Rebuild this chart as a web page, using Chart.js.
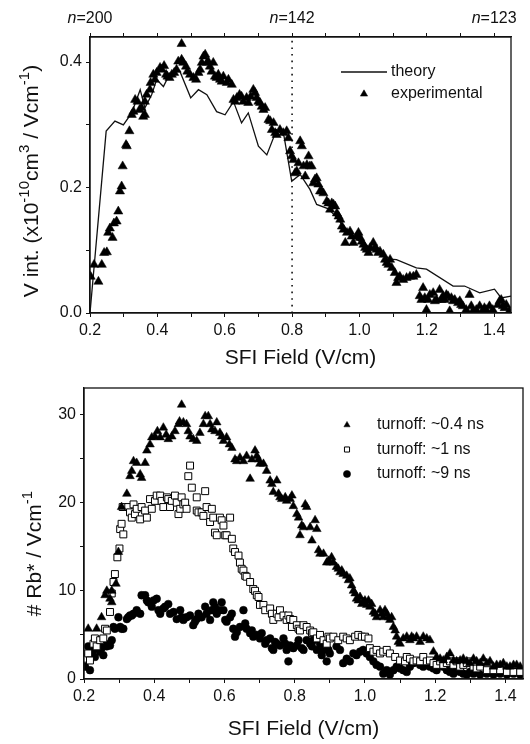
<!DOCTYPE html>
<html>
<head>
<meta charset="utf-8">
<script src="https://cdn.jsdelivr.net/npm/chart.js@4.4.1/dist/chart.umd.min.js"></script>
<style>
  html, body { margin: 0; padding: 0; background: #fff; }
  .panel { position: absolute; left: 0; width: 530px; height: 372px; }
  #topPanel { top: 0; }
  #botPanel { top: 372px; }
</style>
</head>
<body>
<div class="panel" id="topPanel"><canvas id="topChart" width="530" height="372"></canvas></div>
<div class="panel" id="botPanel"><canvas id="botChart" width="530" height="372"></canvas></div>
<script>
// ---- donnees : [champ SFI (V/cm), valeur] ----

// panneau du haut : V int. experimental (triangles)
const experimental = [
  [0.202,0.058],[0.212,0.077],[0.225,0.050],[0.235,0.077],[0.242,0.096],[0.250,0.097],[0.254,0.128],[0.259,0.135],
  [0.267,0.120],[0.271,0.143],[0.279,0.146],[0.284,0.162],[0.289,0.194],[0.294,0.202],[0.297,0.234],[0.307,0.268],
  [0.309,0.266],[0.317,0.290],[0.324,0.316],[0.329,0.321],[0.334,0.340],[0.341,0.337],[0.347,0.324],[0.353,0.327],
  [0.358,0.313],[0.363,0.316],[0.363,0.337],[0.368,0.348],[0.378,0.356],[0.380,0.367],[0.388,0.380],[0.393,0.372],
  [0.398,0.383],[0.408,0.391],[0.413,0.388],[0.420,0.394],[0.426,0.380],[0.430,0.377],[0.436,0.375],[0.443,0.380],
  [0.450,0.383],[0.457,0.388],[0.462,0.401],[0.472,0.429],[0.472,0.404],[0.477,0.399],[0.485,0.393],[0.489,0.385],
  [0.497,0.380],[0.507,0.375],[0.515,0.372],[0.522,0.383],[0.527,0.388],[0.532,0.399],[0.537,0.409],[0.542,0.412],
  [0.547,0.399],[0.551,0.401],[0.556,0.393],[0.561,0.385],[0.566,0.399],[0.571,0.377],[0.576,0.375],[0.581,0.380],
  [0.586,0.372],[0.591,0.369],[0.596,0.377],[0.606,0.367],[0.611,0.372],[0.621,0.364],[0.626,0.340],[0.631,0.337],
  [0.636,0.343],[0.644,0.348],[0.650,0.345],[0.655,0.337],[0.665,0.343],[0.670,0.335],[0.677,0.345],[0.685,0.356],
  [0.690,0.351],[0.695,0.343],[0.700,0.337],[0.705,0.335],[0.710,0.329],[0.715,0.324],[0.720,0.327],[0.730,0.308],
  [0.735,0.306],[0.740,0.292],[0.745,0.303],[0.750,0.287],[0.754,0.284],[0.764,0.292],[0.774,0.287],[0.784,0.290],
  [0.789,0.279],[0.794,0.258],[0.799,0.250],[0.804,0.244],[0.809,0.223],[0.814,0.226],[0.819,0.239],[0.824,0.274],
  [0.829,0.266],[0.834,0.234],[0.839,0.218],[0.844,0.236],[0.849,0.250],[0.853,0.234],[0.858,0.234],[0.863,0.207],
  [0.868,0.213],[0.873,0.215],[0.878,0.205],[0.883,0.194],[0.888,0.194],[0.893,0.191],[0.903,0.178],[0.908,0.175],
  [0.913,0.165],[0.918,0.175],[0.923,0.173],[0.928,0.170],[0.933,0.159],[0.938,0.154],[0.943,0.149],[0.948,0.138],
  [0.953,0.133],[0.958,0.112],[0.963,0.128],[0.972,0.130],[0.977,0.122],[0.982,0.112],[0.992,0.122],[0.997,0.128],
  [1.002,0.120],[1.007,0.114],[1.012,0.109],[1.017,0.104],[1.022,0.101],[1.027,0.096],[1.032,0.104],[1.041,0.112],
  [1.046,0.104],[1.051,0.101],[1.056,0.096],[1.061,0.098],[1.071,0.093],[1.076,0.085],[1.081,0.080],[1.086,0.077],
  [1.091,0.085],[1.096,0.072],[1.105,0.064],[1.110,0.048],[1.115,0.056],[1.120,0.058],[1.130,0.053],[1.140,0.056],
  [1.150,0.058],[1.160,0.058],[1.169,0.061],[1.179,0.027],[1.184,0.021],[1.189,0.040],[1.194,0.024],[1.199,0.005],
  [1.204,0.021],[1.209,0.029],[1.219,0.032],[1.224,0.019],[1.229,0.021],[1.238,0.037],[1.243,0.021],[1.248,0.027],
  [1.253,0.021],[1.258,0.029],[1.263,0.027],[1.268,0.003],[1.273,0.024],[1.278,0.019],[1.283,0.021],[1.293,0.016],
  [1.298,0.019],[1.302,0.013],[1.307,0.011],[1.317,0.005],[1.327,0.029],[1.332,0.011],[1.337,0.003],[1.347,0.005],
  [1.357,0.011],[1.366,0.003],[1.371,0.008],[1.376,0.005],[1.386,0.011],[1.396,0.005],[1.411,0.013],[1.416,0.019],
  [1.421,0.021],[1.426,0.011],[1.431,0.008],[1.436,0.013],[1.445,0.003]
];

// panneau du haut : courbe theorique
const theory = [
  [0.200,0.000],[0.248,0.290],[0.274,0.306],[0.299,0.300],[0.324,0.319],[0.349,0.356],[0.363,0.327],[0.383,0.348],
  [0.398,0.372],[0.418,0.361],[0.433,0.377],[0.452,0.385],[0.467,0.385],[0.499,0.343],[0.522,0.356],[0.547,0.348],
  [0.576,0.321],[0.601,0.316],[0.626,0.337],[0.650,0.303],[0.670,0.319],[0.700,0.266],[0.725,0.252],[0.754,0.292],
  [0.776,0.282],[0.799,0.210],[0.824,0.221],[0.853,0.197],[0.873,0.173],[0.908,0.166],[0.938,0.149],[0.963,0.128],
  [1.007,0.112],[1.051,0.098],[1.091,0.086],[1.110,0.085],[1.169,0.072],[1.199,0.070],[1.278,0.043],[1.312,0.043],
  [1.357,0.032],[1.401,0.038],[1.421,0.024],[1.450,0.027]
];

// panneau du bas : # Rb* pour trois temps de coupure
const turnoff04 = [
  [0.212,5.7],[0.236,5.7],[0.250,7.0],[0.260,9.5],[0.265,10.0],[0.274,9.1],[0.279,10.0],[0.279,8.7],
  [0.291,10.8],[0.298,14.4],[0.307,19.5],[0.322,21.0],[0.331,23.0],[0.336,23.6],[0.341,24.7],[0.350,24.5],
  [0.360,23.2],[0.364,22.8],[0.374,24.5],[0.379,25.9],[0.388,26.6],[0.393,27.4],[0.402,27.5],[0.409,28.1],
  [0.417,27.4],[0.426,28.5],[0.434,27.7],[0.440,27.2],[0.450,27.5],[0.459,28.1],[0.469,28.9],[0.472,29.2],
  [0.478,31.1],[0.483,29.1],[0.492,28.9],[0.497,28.1],[0.502,27.5],[0.511,27.2],[0.521,27.0],[0.530,27.9],
  [0.540,28.9],[0.545,29.8],[0.554,29.8],[0.559,28.9],[0.564,28.3],[0.573,28.1],[0.578,29.1],[0.587,27.9],
  [0.592,27.5],[0.597,27.0],[0.606,27.4],[0.614,26.6],[0.621,26.2],[0.630,24.9],[0.635,24.7],[0.644,25.1],
  [0.654,24.7],[0.663,25.3],[0.673,22.7],[0.678,24.9],[0.687,25.9],[0.692,25.3],[0.697,24.9],[0.701,24.4],
  [0.711,24.4],[0.720,23.6],[0.730,22.5],[0.735,22.1],[0.739,21.2],[0.749,22.5],[0.754,21.0],[0.758,20.6],
  [0.763,20.4],[0.773,20.6],[0.777,20.2],[0.787,20.4],[0.792,20.8],[0.796,19.6],[0.806,18.7],[0.811,18.3],
  [0.815,16.3],[0.820,17.4],[0.825,17.2],[0.830,19.8],[0.834,19.5],[0.844,17.2],[0.849,15.7],[0.858,18.0],
  [0.863,17.0],[0.868,14.6],[0.872,14.2],[0.882,14.2],[0.891,13.2],[0.896,13.4],[0.900,13.2],[0.905,13.8],
  [0.910,13.2],[0.919,12.7],[0.924,12.5],[0.929,12.1],[0.934,12.3],[0.938,11.9],[0.948,11.7],[0.953,11.2],
  [0.957,11.4],[0.962,10.6],[0.967,10.0],[0.972,9.7],[0.976,9.1],[0.981,8.9],[0.986,9.3],[0.991,8.5],
  [0.995,8.7],[1.000,8.9],[1.005,8.4],[1.010,8.9],[1.014,8.2],[1.019,8.5],[1.024,7.6],[1.029,7.4],
  [1.033,7.0],[1.043,7.8],[1.048,7.4],[1.052,7.0],[1.057,7.8],[1.062,7.4],[1.067,7.0],[1.071,6.7],
  [1.076,7.0],[1.081,5.9],[1.086,5.5],[1.090,4.8],[1.095,4.2],[1.100,4.0],[1.109,4.6],[1.119,4.8],
  [1.128,4.4],[1.133,4.8],[1.138,4.6],[1.147,4.8],[1.157,4.2],[1.166,4.8],[1.176,4.6],[1.185,4.4],
  [1.195,3.1],[1.204,2.5],[1.214,2.3],[1.223,2.1],[1.233,2.5],[1.242,2.9],[1.252,2.1],[1.261,2.0],
  [1.271,2.1],[1.280,2.3],[1.290,2.0],[1.299,1.8],[1.309,2.3],[1.318,2.0],[1.328,1.8],[1.337,2.3],
  [1.347,1.8],[1.356,2.0],[1.366,1.4],[1.375,1.6],[1.385,1.6],[1.394,1.8],[1.404,1.4],[1.413,1.4],
  [1.423,1.6],[1.432,1.6],[1.442,1.4]
];

const turnoff1 = [
  [0.208,2.3],[0.212,2.9],[0.217,2.1],[0.227,4.0],[0.231,4.6],[0.236,3.7],[0.246,4.4],[0.255,4.6],
  [0.260,5.7],[0.265,5.5],[0.274,7.6],[0.279,9.7],[0.284,11.0],[0.288,11.9],[0.295,13.8],[0.301,14.8],
  [0.303,17.0],[0.307,17.6],[0.312,16.4],[0.310,19.5],[0.326,19.5],[0.331,18.9],[0.336,18.3],[0.341,19.8],
  [0.345,18.7],[0.350,19.3],[0.360,18.1],[0.364,19.5],[0.374,19.1],[0.379,18.3],[0.388,20.4],[0.393,19.3],
  [0.402,20.2],[0.407,20.8],[0.417,20.8],[0.421,20.2],[0.426,19.5],[0.436,20.6],[0.440,20.4],[0.445,19.5],
  [0.450,20.2],[0.459,20.8],[0.464,20.0],[0.469,18.7],[0.474,19.3],[0.478,20.6],[0.483,19.8],[0.488,20.0],
  [0.492,19.3],[0.497,23.0],[0.502,24.2],[0.507,21.7],[0.521,20.6],[0.521,19.1],[0.526,18.9],[0.535,18.9],
  [0.540,18.5],[0.545,21.3],[0.549,19.5],[0.559,17.8],[0.564,19.3],[0.568,18.3],[0.573,16.6],[0.578,16.3],
  [0.587,18.3],[0.592,18.0],[0.597,17.4],[0.602,16.3],[0.606,16.3],[0.616,18.3],[0.621,15.9],[0.625,14.8],
  [0.630,14.4],[0.640,14.0],[0.644,13.2],[0.649,12.5],[0.654,12.3],[0.659,11.7],[0.663,11.6],[0.673,11.0],
  [0.682,10.2],[0.687,10.0],[0.692,9.5],[0.697,9.3],[0.701,8.4],[0.711,8.4],[0.716,7.8],[0.730,8.0],
  [0.735,7.4],[0.739,6.7],[0.749,7.4],[0.754,7.0],[0.758,7.8],[0.768,7.2],[0.777,6.7],[0.782,7.2],
  [0.787,6.8],[0.792,5.9],[0.796,6.7],[0.806,6.1],[0.811,5.7],[0.815,5.5],[0.825,6.1],[0.834,5.9],
  [0.844,5.5],[0.849,5.2],[0.853,5.3],[0.863,4.6],[0.872,5.0],[0.882,4.4],[0.891,4.0],[0.896,4.8],
  [0.900,4.6],[0.910,4.8],[0.924,4.4],[0.938,4.8],[0.948,4.6],[0.957,4.4],[0.972,4.8],[0.981,5.0],
  [0.991,4.8],[1.000,4.8],[1.010,4.6],[1.014,3.5],[1.024,3.1],[1.033,3.3],[1.043,2.9],[1.052,3.1],
  [1.062,3.3],[1.071,2.9],[1.086,2.5],[1.100,2.1],[1.114,2.0],[1.119,2.5],[1.128,2.3],[1.138,2.0],
  [1.147,2.1],[1.157,2.0],[1.166,2.5],[1.176,2.0],[1.185,2.1],[1.195,1.8],[1.204,1.6],[1.214,2.0],
  [1.223,1.6],[1.233,1.8],[1.242,2.0],[1.252,1.6],[1.261,2.0],[1.271,1.4],[1.280,1.6],[1.290,1.8],
  [1.299,2.0],[1.309,1.4],[1.318,1.2],[1.328,1.4],[1.347,1.0],[1.366,1.0],[1.385,1.0],[1.404,0.8],
  [1.423,0.8],[1.442,0.8]
];

const turnoff9 = [
  [0.203,1.4],[0.208,2.5],[0.212,3.7],[0.217,1.0],[0.222,2.9],[0.227,3.3],[0.231,2.5],[0.241,3.7],
  [0.246,3.1],[0.250,3.5],[0.255,2.7],[0.260,4.0],[0.265,3.7],[0.274,3.8],[0.279,4.4],[0.284,5.9],
  [0.288,5.7],[0.298,7.0],[0.303,5.9],[0.307,5.7],[0.312,5.7],[0.322,6.8],[0.326,7.0],[0.331,7.2],
  [0.336,7.2],[0.341,7.4],[0.350,7.8],[0.360,7.4],[0.364,9.5],[0.374,9.5],[0.379,8.9],[0.383,8.7],
  [0.393,8.2],[0.398,8.9],[0.407,9.1],[0.412,7.8],[0.417,7.4],[0.426,8.0],[0.431,8.2],[0.440,8.5],
  [0.445,7.4],[0.455,7.6],[0.464,6.8],[0.474,7.8],[0.478,7.0],[0.483,6.7],[0.492,7.0],[0.502,7.2],
  [0.511,6.1],[0.516,6.5],[0.521,6.8],[0.526,7.4],[0.535,7.0],[0.545,8.2],[0.549,7.4],[0.559,6.7],
  [0.564,7.8],[0.568,8.7],[0.573,8.2],[0.578,7.4],[0.587,7.8],[0.592,8.7],[0.597,7.8],[0.602,6.7],
  [0.606,6.5],[0.616,7.0],[0.621,7.4],[0.625,5.7],[0.630,4.8],[0.635,5.3],[0.644,5.9],[0.654,7.8],
  [0.659,6.3],[0.663,5.7],[0.673,5.2],[0.678,5.5],[0.682,4.8],[0.692,5.0],[0.701,4.6],[0.706,5.2],
  [0.716,4.0],[0.720,4.4],[0.730,4.6],[0.735,3.5],[0.739,3.3],[0.744,4.2],[0.749,4.0],[0.758,3.8],
  [0.768,4.6],[0.773,4.0],[0.777,3.3],[0.782,2.0],[0.787,3.8],[0.796,3.5],[0.806,3.8],[0.811,4.4],
  [0.820,3.5],[0.825,3.3],[0.834,4.4],[0.844,4.0],[0.849,3.7],[0.853,4.4],[0.863,3.3],[0.872,4.0],
  [0.877,2.7],[0.882,3.3],[0.891,2.0],[0.896,3.3],[0.900,2.9],[0.919,3.7],[0.929,3.3],[0.938,1.8],
  [0.948,2.3],[0.957,2.0],[0.967,2.9],[0.976,2.7],[0.986,3.1],[0.995,3.3],[1.005,2.9],[1.014,2.5],
  [1.024,2.0],[1.033,1.6],[1.043,1.4],[1.052,0.6],[1.062,1.0],[1.071,0.5],[1.081,1.0],[1.090,1.4],
  [1.100,1.2],[1.109,1.0],[1.119,0.8],[1.128,1.4],[1.138,1.8],[1.147,2.0],[1.157,1.6],[1.166,1.4],
  [1.176,1.8],[1.185,1.4],[1.195,1.2],[1.204,1.0],[1.214,1.6],[1.223,1.4],[1.233,1.0],[1.242,0.8],
  [1.252,0.6],[1.261,1.0],[1.271,0.8],[1.280,0.6],[1.290,0.5],[1.299,0.8],[1.309,0.6],[1.328,0.5],
  [1.347,0.6],[1.366,0.5],[1.385,0.6],[1.404,0.5],[1.423,0.6],[1.442,0.5]
];

// axe du haut : nombre quantique n aux champs 0.2, 0.8 et 1.4 V/cm
const topAxisFields = [0.2, 0.8, 1.4];
const topAxisN = ['200', '142', '123'];
const markerField = 0.8;       // ligne pointillee n=142
const fieldRange = [0.2, 1.45];
const intRange = [0, 0.44];
const rbRange = [0, 33];

const FONT = "'Liberation Sans', Arial, Helvetica, sans-serif";
const INK = '#111';
const toPts = arr => arr.map(p => ({ x: p[0], y: p[1] }));

// cadre complet autour de la zone de trace
const framePlugin = {
  id: 'frame',
  afterDraw(chart) {
    const a = chart.chartArea, ctx = chart.ctx;
    ctx.save();
    ctx.strokeStyle = INK;
    ctx.lineWidth = 1.3;
    ctx.strokeRect(a.left, a.top, a.right - a.left, a.bottom - a.top);
    ctx.restore();
  }
};

// titre de l'axe Y avec exposants
const richTitlePlugin = {
  id: 'richTitle',
  afterDraw(chart, args, opts) {
    const ctx = chart.ctx, a = chart.chartArea;
    const size = opts.size, sup = Math.round(size * 0.7);
    let total = 0;
    const widths = opts.parts.map(p => {
      ctx.font = (p[1] ? sup : size) + 'px ' + FONT;
      const w = ctx.measureText(p[0]).width;
      total += w;
      return w;
    });
    ctx.save();
    ctx.translate(opts.x, (a.top + a.bottom) / 2 + opts.shift);
    ctx.rotate(-Math.PI / 2);
    ctx.fillStyle = INK;
    ctx.textBaseline = 'alphabetic';
    ctx.textAlign = 'left';
    let cx = -total / 2;
    opts.parts.forEach((p, i) => {
      ctx.font = (p[1] ? sup : size) + 'px ' + FONT;
      ctx.fillText(p[0], cx, p[1] ? -size * 0.42 : 0);
      cx += widths[i];
    });
    ctx.restore();
  }
};

// etiquettes "n=..." de l'axe du haut, n en italique
const nLabelsPlugin = {
  id: 'nLabels',
  afterDraw(chart, args, opts) {
    const sc = chart.scales.x2;
    if (!sc) return;
    const ctx = chart.ctx;
    ctx.save();
    ctx.fillStyle = INK;
    ctx.textBaseline = 'alphabetic';
    ctx.textAlign = 'left';
    topAxisFields.forEach((f, i) => {
      const rest = '=' + topAxisN[i];
      ctx.font = 'italic ' + opts.size + 'px ' + FONT;
      const wn = ctx.measureText('n').width;
      ctx.font = opts.size + 'px ' + FONT;
      const wr = ctx.measureText(rest).width;
      const x0 = sc.getPixelForValue(f) - (wn + wr) / 2;
      ctx.font = 'italic ' + opts.size + 'px ' + FONT;
      ctx.fillText('n', x0, opts.baseline);
      ctx.font = opts.size + 'px ' + FONT;
      ctx.fillText(rest, x0 + wn, opts.baseline);
    });
    ctx.restore();
  }
};

// legende dessinee dans la zone de trace
const insideLegendPlugin = {
  id: 'insideLegend',
  afterDraw(chart, args, opts) {
    const ctx = chart.ctx;
    ctx.save();
    ctx.font = opts.size + 'px ' + FONT;
    ctx.textBaseline = 'middle';
    opts.items.forEach((it, i) => {
      const ds = chart.data.datasets[it.dataset];
      const y = opts.y + i * opts.rowGap;
      if (it.line) {
        ctx.beginPath();
        ctx.moveTo(opts.lineFrom, y);
        ctx.lineTo(opts.lineTo, y);
        ctx.lineWidth = ds.borderWidth;
        ctx.strokeStyle = ds.borderColor;
        ctx.stroke();
      } else {
        ctx.fillStyle = ds.pointBackgroundColor;
        ctx.strokeStyle = ds.pointBorderColor;
        ctx.lineWidth = ds.pointBorderWidth;
        Chart.helpers.drawPoint(ctx, { pointStyle: ds.pointStyle, radius: opts.markRadius, borderWidth: ds.pointBorderWidth, rotation: 0 }, opts.markX, y);
      }
      ctx.fillStyle = INK;
      ctx.fillText(ds.label, opts.textX, y);
    });
    ctx.restore();
  }
};

const tickFont = { family: FONT, size: 16 };
const axisGrid = { drawOnChartArea: false, drawTicks: true, tickLength: 4, color: INK, lineWidth: 1 };
const axisBorder = { display: true, color: INK, width: 1.3 };
const evenTenths = v => { const k = Math.round(v * 10); return k % 2 === 0 ? (k / 10).toFixed(1) : ''; };

const xTitle = { display: true, text: 'SFI Field (V/cm)', color: INK, font: { family: FONT, size: 21, lineHeight: 1.2 }, padding: { top: 0, bottom: 1 } };

// ---- panneau du haut ----
new Chart(document.getElementById('topChart'), {
  type: 'scatter',
  data: {
    datasets: [
      {
        label: 'theory', data: toPts(theory), showLine: true, borderColor: INK, borderWidth: 1.3,
        pointRadius: 0, pointHoverRadius: 0, tension: 0, order: 2
      },
      {
        label: 'experimental', data: toPts(experimental), pointStyle: 'triangle', pointRadius: 5.3,
        pointBackgroundColor: '#000', pointBorderColor: '#000', pointBorderWidth: 0.5,
        backgroundColor: '#000', borderColor: '#000', order: 1
      },
      {
        label: '', data: [{ x: markerField, y: intRange[0] }, { x: markerField, y: intRange[1] }], showLine: true,
        borderColor: INK, borderWidth: 1.6, borderDash: [1.6, 5], pointRadius: 0, order: 3
      }
    ]
  },
  options: {
    responsive: false,
    animation: false,
    layout: { padding: { left: 0, right: 19, top: 0, bottom: 0 } },
    plugins: {
      legend: { display: false },
      tooltip: { enabled: false },
      richTitle: {
        size: 21, x: 38, shift: 6,
        parts: [['V int. (x10', false], ['-10', true], ['cm', false], ['3', true], [' / Vcm', false], ['-1', true], [')', false]]
      },
      nLabels: { size: 16, baseline: 23 },
      insideLegend: {
        size: 16, y: 72, rowGap: 22, lineFrom: 341, lineTo: 387, markX: 364, markRadius: 4.2, textX: 391,
        items: [{ dataset: 0, line: true }, { dataset: 1 }]
      }
    },
    scales: {
      x: {
        type: 'linear', position: 'bottom', min: fieldRange[0], max: fieldRange[1],
        grid: axisGrid, border: axisBorder,
        ticks: { stepSize: 0.1, includeBounds: false, autoSkip: false, maxRotation: 0, color: INK, font: tickFont, padding: 4, callback: evenTenths },
        title: xTitle,
        afterFit: s => { s.height = 59; }
      },
      x2: {
        type: 'linear', position: 'top', min: fieldRange[0], max: fieldRange[1],
        grid: axisGrid, border: axisBorder,
        ticks: { stepSize: 0.1, includeBounds: false, autoSkip: false, maxRotation: 0, font: tickFont, callback: () => '' },
        afterFit: s => { s.height = 37; }
      },
      y: {
        type: 'linear', min: intRange[0], max: intRange[1],
        grid: axisGrid, border: axisBorder,
        ticks: { stepSize: 0.1, includeBounds: false, autoSkip: false, color: INK, font: tickFont, padding: 4, callback: evenTenths },
        afterFit: s => { s.width = 90; }
      }
    }
  },
  plugins: [framePlugin, richTitlePlugin, nLabelsPlugin, insideLegendPlugin]
});

// ---- panneau du bas ----
new Chart(document.getElementById('botChart'), {
  type: 'scatter',
  data: {
    datasets: [
      {
        label: 'turnoff: ~0.4 ns', data: toPts(turnoff04), pointStyle: 'triangle', pointRadius: 5,
        pointBackgroundColor: '#000', pointBorderColor: '#000', pointBorderWidth: 0.5
      },
      {
        label: 'turnoff: ~1 ns', data: toPts(turnoff1), pointStyle: 'rect', pointRadius: 4.9,
        pointBackgroundColor: '#fff', pointBorderColor: '#000', pointBorderWidth: 1
      },
      {
        label: 'turnoff: ~9 ns', data: toPts(turnoff9), pointStyle: 'circle', pointRadius: 3.9,
        pointBackgroundColor: '#000', pointBorderColor: '#000', pointBorderWidth: 0.5
      }
    ]
  },
  options: {
    responsive: false,
    animation: false,
    layout: { padding: { left: 0, right: 7, top: 16, bottom: 0 } },
    plugins: {
      legend: { display: false },
      tooltip: { enabled: false },
      richTitle: {
        size: 21, x: 41, shift: 20,
        parts: [['# Rb* / Vcm', false], ['-1', true]]
      },
      insideLegend: {
        size: 16, y: 53, rowGap: 24.5, markX: 347, markRadius: 3.6, textX: 377,
        items: [{ dataset: 0 }, { dataset: 1 }, { dataset: 2 }]
      }
    },
    scales: {
      x: {
        type: 'linear', position: 'bottom', min: fieldRange[0], max: fieldRange[1],
        grid: axisGrid, border: axisBorder,
        ticks: { stepSize: 0.1, includeBounds: false, autoSkip: false, maxRotation: 0, color: INK, font: tickFont, padding: 4, callback: evenTenths },
        title: Object.assign({}, xTitle, { padding: { top: 0, bottom: 2 } }),
        afterFit: s => { s.height = 65; }
      },
      y: {
        type: 'linear', min: rbRange[0], max: rbRange[1],
        grid: axisGrid, border: axisBorder,
        ticks: { stepSize: 5, includeBounds: false, autoSkip: false, color: INK, font: tickFont, padding: 4, callback: v => (v % 10 === 0 ? String(v) : '') },
        afterFit: s => { s.width = 84; }
      }
    }
  },
  plugins: [framePlugin, richTitlePlugin, insideLegendPlugin]
});
</script>
</body>
</html>
